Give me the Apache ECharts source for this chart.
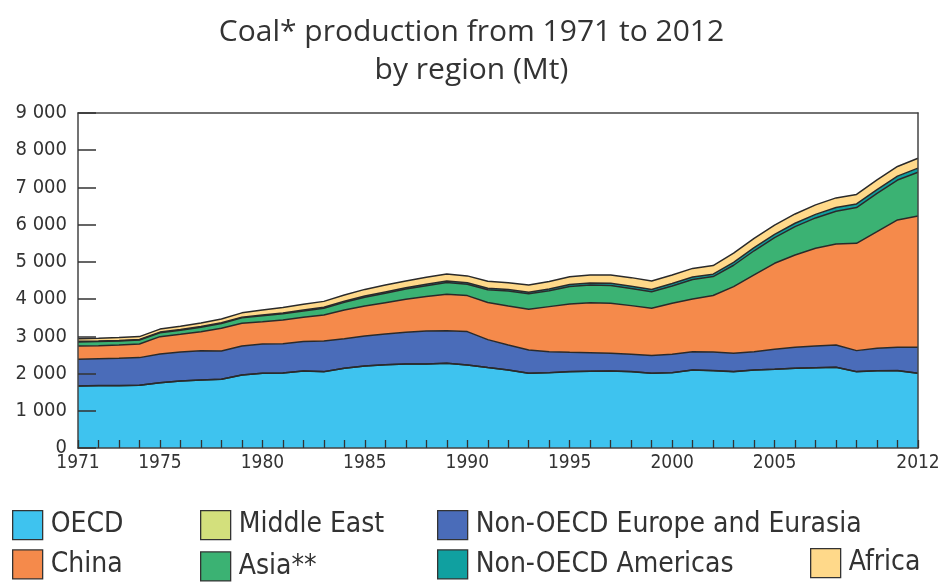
<!DOCTYPE html>
<html><head><meta charset="utf-8">
<script src="https://cdn.jsdelivr.net/npm/echarts@6/dist/echarts.min.js"></script>
<style>html,body{margin:0;padding:0;background:#fff}#c{width:943px;height:584px}</style>
</head><body><div id="c"></div>
<script>
const years = ['1971','1972','1973','1974','1975','1976','1977','1978','1979','1980',
  '1981','1982','1983','1984','1985','1986','1987','1988','1989','1990',
  '1991','1992','1993','1994','1995','1996','1997','1998','1999','2000',
  '2001','2002','2003','2004','2005','2006','2007','2008','2009','2010',
  '2011','2012'];
const labeledYears = ['1971','1975','1980','1985','1990','1995','2000','2005','2012'];
const yTicks = [0,1000,2000,3000,4000,5000,6000,7000,8000,9000];

const oecd = [1666,1675,1675,1684,1755,1800,1827,1845,1961,2006,
  2015,2069,2051,2141,2203,2238,2256,2256,2275,2230,
  2160,2096,2006,2024,2051,2060,2069,2051,2006,2024,
  2096,2078,2051,2096,2113,2140,2158,2167,2051,2077,
  2077,2006];
const middleEast = [1,1,1,1,1,1,1,1,1,1,1,1,1,1,1,1,1,1,1,1,1,1,1,1,1,1,1,1,1,1,1,1,1,1,1,1,1,1,1,1,2,2];
const nonOecdEurope = [716,725,734,743,770,779,788,761,779,788,
  788,788,824,796,806,825,852,887,877,896,
  750,671,627,564,519,501,474,465,475,492,
  492,497,492,492,538,565,582,600,564,601,
  628,699];
const china = [358,349,358,367,466,474,510,609,610,600,
  637,654,698,770,806,841,886,923,976,967,
  1000,1048,1093,1209,1299,1343,1344,1308,1271,1371,
  1416,1520,1791,2060,2310,2480,2625,2714,2884,3134,
  3421,3528];
const asia = [110,110,108,105,105,110,118,128,145,160,
  165,170,180,205,235,255,275,295,320,305,
  340,400,415,425,470,475,475,460,445,465,
  520,510,575,650,690,760,815,880,960,1030,
  1070,1175];
const nonOecdAmericas = [15,15,15,16,17,18,18,19,20,21,
  22,24,25,27,30,32,33,35,38,40,
  42,42,45,48,52,55,60,62,60,65,
  70,65,78,82,88,92,95,97,97,98,
  105,108];
const africa = [70,72,75,77,80,88,95,105,115,130,
  145,155,160,170,180,185,185,190,190,185,
  185,180,190,200,210,215,225,230,230,230,
  230,230,245,250,250,250,255,260,255,260,
  260,265];

const seriesDefs = [
  {name:'OECD', data:oecd, color:'#3EC3EF'},
  {name:'Middle East', data:middleEast, color:'#D3E07C'},
  {name:'Non-OECD Europe and Eurasia', data:nonOecdEurope, color:'#4A6CB9'},
  {name:'China', data:china, color:'#F58A4B'},
  {name:'Asia**', data:asia, color:'#3BB273'},
  {name:'Non-OECD Americas', data:nonOecdAmericas, color:'#10A0A0'},
  {name:'Africa', data:africa, color:'#FFD98A'}
];
const colorOf = n => seriesDefs.find(s => s.name === n).color;

const tickFont = "'DejaVu Sans Condensed',sans-serif";
const titleFont = "'Open Sans','Noto Sans',sans-serif";
const legendText = {fontSize:28, color:'#333', fontFamily:tickFont, padding:[0,0,0,3]};
function legendItem(n){
  return {name:n, icon:'rect', itemStyle:{color:colorOf(n), borderColor:'#333', borderWidth:1.3}};
}
function makeLegend(names, left, top, gap){
  return {left:left, top:top, orient:'vertical', padding:0, itemWidth:30, itemHeight:29, itemGap:gap,
    selectedMode:false, textStyle:legendText, data:names.map(legendItem)};
}
const axisLevel = 1;

const chart = echarts.init(document.getElementById('c'), null, {renderer:'canvas'});
chart.setOption({
  animation:false,
  backgroundColor:'#fff',
  title:[
    {text:'Coal* production from 1971 to 2012', left:'center', top:12,
      textStyle:{fontSize:30, fontWeight:'normal', color:'#333', fontFamily:titleFont}},
    {text:'by region (Mt)', left:'center', top:50,
      textStyle:{fontSize:30, fontWeight:'normal', color:'#333', fontFamily:titleFont}}
  ],
  legend:[
    makeLegend(['OECD','China'], 12, 510, 9),
    makeLegend(['Middle East','Asia**'], 200, 510, 11),
    makeLegend(['Non-OECD Europe and Eurasia','Non-OECD Americas'], 437, 510, 9),
    makeLegend(['Africa'], 810, 548, 9)
  ],
  grid:{left:78, right:25, top:113, bottom:136, containLabel:false},
  xAxis:[{
    type:'category', data:years, boundaryGap:false, zlevel:axisLevel, z:10,
    axisLine:{show:true, onZero:false, lineStyle:{color:'#444', width:1.5}},
    axisTick:{show:true, inside:true, length:8, interval:0, lineStyle:{color:'#333', width:1.3}},
    axisLabel:{interval:(i, v) => labeledYears.indexOf(v) >= 0, margin:6, fontSize:19, color:'#333', fontFamily:tickFont},
    splitLine:{show:false}
  },{
    type:'category', data:years, boundaryGap:false, position:'top', zlevel:axisLevel, z:10,
    axisLine:{show:true, onZero:false, lineStyle:{color:'#444', width:1.5}},
    axisTick:{show:false}, axisLabel:{show:false}, splitLine:{show:false}
  }],
  yAxis:[{
    type:'value', min:yTicks[0], max:yTicks[yTicks.length-1], interval:1000, zlevel:axisLevel, z:10,
    axisLine:{show:true, onZero:false, lineStyle:{color:'#444', width:1.5}},
    axisTick:{show:true, inside:true, length:18, lineStyle:{color:'#333', width:1.5}},
    axisLabel:{margin:11, fontSize:20, color:'#333', fontFamily:tickFont,
      formatter:v => v === 0 ? '0' : (v/1000) + ' 000'},
    splitLine:{show:false}
  },{
    type:'value', min:yTicks[0], max:yTicks[yTicks.length-1], interval:1000, position:'right', zlevel:axisLevel, z:10,
    axisLine:{show:true, onZero:false, lineStyle:{color:'#444', width:1.5}},
    axisTick:{show:false}, axisLabel:{show:false}, splitLine:{show:false}
  }],
  series: seriesDefs.map(s => ({
    name:s.name, type:'line', stack:'total', data:s.data, xAxisIndex:0, yAxisIndex:0,
    symbol:'none', smooth:false, color:s.color, z:2,
    itemStyle:{color:s.color},
    lineStyle:{color:'#2a2a2a', width:1.5},
    areaStyle:{color:s.color, opacity:1}
  }))
});
</script></body></html>
